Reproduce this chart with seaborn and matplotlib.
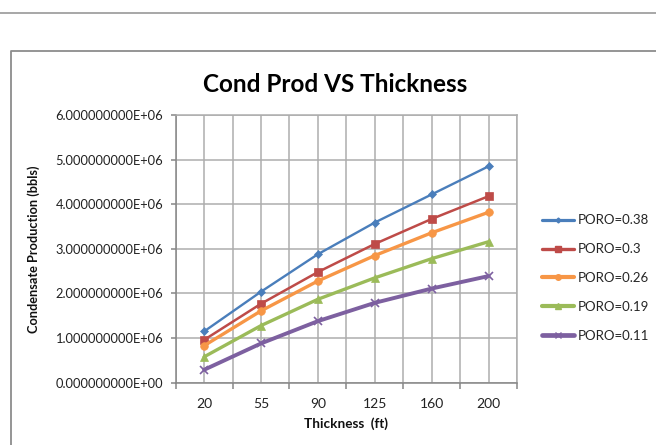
import matplotlib
matplotlib.use("Agg")
import matplotlib.pyplot as plt
import seaborn as sns
import pandas as pd
from matplotlib.lines import Line2D
from matplotlib.ticker import FuncFormatter, MultipleLocator, FixedLocator

thickness = ["20", "55", "90", "125", "160", "200"]
poro_labels = ["PORO=0.38", "PORO=0.3", "PORO=0.26", "PORO=0.19", "PORO=0.11"]
poro_038 = [1.15e6, 2.04e6, 2.88e6, 3.59e6, 4.22e6, 4.85e6]
poro_030 = [0.96e6, 1.77e6, 2.48e6, 3.11e6, 3.67e6, 4.18e6]
poro_026 = [0.83e6, 1.61e6, 2.28e6, 2.85e6, 3.36e6, 3.82e6]
poro_019 = [0.58e6, 1.28e6, 1.87e6, 2.35e6, 2.78e6, 3.16e6]
poro_011 = [0.29e6, 0.88e6, 1.38e6, 1.79e6, 2.11e6, 2.39e6]
series = [poro_038, poro_030, poro_026, poro_019, poro_011]

colors = ["#4A7EBB", "#BE4B48", "#F79646", "#9BBB59", "#7D60A0"]
markers = ["D", "s", "o", "^", "x"]
msizes = [4, 5.5, 5.5, 6, 5.5]
lwidths = [1.7, 1.8, 2.4, 2.4, 2.8]

sns.set_theme(style="white")
plt.rcParams["font.family"] = ["Lato", "DejaVu Sans"]

fig = plt.figure(figsize=(6.56, 4.45), dpi=100)
ax = fig.add_axes([175.7 / 656, 1 - 382.7 / 445, (517 - 175.7) / 656, (382.7 - 115) / 445])

rows = []
for lab, vals in zip(poro_labels, series):
    for i, v in enumerate(vals):
        rows.append({"idx": i, "val": v, "series": lab})
df = pd.DataFrame(rows)

handles = []
for lab, col, mk, ms, lw in zip(poro_labels, colors, markers, msizes, lwidths):
    sub = df[df["series"] == lab]
    sns.lineplot(data=sub, x="idx", y="val", ax=ax, color=col, marker=mk,
                 markersize=ms, linewidth=lw, markeredgecolor=col,
                 markeredgewidth=1.2 if mk == "x" else 0.5, legend=False)
    handles.append(Line2D([0], [0], color=col, marker=mk, markersize=ms - 1.5,
                          linewidth=lw + 0.6, markeredgecolor=col, label=lab))

ax.set_xlim(-0.5, 5.5)
ax.set_ylim(0, 6e6)
ax.yaxis.set_major_locator(MultipleLocator(1e6))
ax.yaxis.set_major_formatter(FuncFormatter(lambda v, p: "{:.9E}".format(v)))
ax.set_xticks(range(len(thickness)))
ax.set_xticklabels(thickness)
ax.xaxis.set_minor_locator(FixedLocator([i - 0.5 for i in range(len(thickness) + 1)]))

grid_col = "#ADADAD"
ax.grid(True, axis="y", which="major", color=grid_col, linewidth=1.1)
ax.grid(True, axis="x", which="both", color=grid_col, linewidth=1.1)
ax.set_axisbelow(True)

for s in ["top", "right"]:
    ax.spines[s].set_color(grid_col)
    ax.spines[s].set_linewidth(1.1)
for s in ["left", "bottom"]:
    ax.spines[s].set_color("#868686")
    ax.spines[s].set_linewidth(1.1)

ax.tick_params(axis="x", which="major", length=0, pad=11, labelsize=10, colors="#222222")
ax.tick_params(axis="x", which="minor", length=4, width=1.1, color="#868686", direction="out", bottom=True)
ax.tick_params(axis="y", which="major", length=3.6, width=1.1, color="#868686", direction="out",
               left=True, pad=5.5, labelsize=9.3, labelcolor="#222222")

ax.set_xlabel("Thickness  (ft)", fontsize=9.7, fontweight="bold", labelpad=5, color="#111111")
ax.set_ylabel("Condensate Production (bbls)", fontsize=9.2, fontweight="bold", color="#111111")
ax.yaxis.set_label_coords(-(175.7 - 40) / (517 - 175.7), 0.5)

fig.text(335 / 656, 1 - 84 / 445, "Cond Prod VS Thickness", ha="center", va="center",
         fontsize=17.5, fontweight="bold", color="#000000")

fig.legend(handles=handles, loc="upper left", bbox_to_anchor=(537 / 656, 1 - 209 / 445),
           frameon=False, fontsize=9.5, handlelength=2.4, handletextpad=0.3,
           labelspacing=1.28, borderaxespad=0)

# chart frame lines
fig.add_artist(Line2D([0, 1], [1 - 13 / 445, 1 - 13 / 445], transform=fig.transFigure,
                      color="#A0A0A0", linewidth=1.3))
fig.add_artist(Line2D([11 / 656, 11 / 656, 1], [0, 1 - 51 / 445, 1 - 51 / 445],
                      transform=fig.transFigure, color="#8C8C8C", linewidth=1.3))

fig.savefig("out.png", dpi=100, facecolor="white")
